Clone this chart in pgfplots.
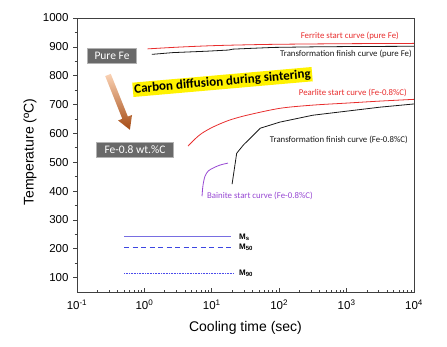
\documentclass[border=0pt]{standalone}
\usepackage{pgfplots}
\pgfplotsset{compat=1.18}
\usepackage{fontspec}
\setmainfont{Liberation Sans}
\newfontfamily\calfont{Carlito}
\definecolor{cred}{RGB}{232,45,45}
\definecolor{cblk}{RGB}{25,25,25}
\definecolor{cpur}{RGB}{150,70,210}
\definecolor{cms}{RGB}{120,110,225}
\definecolor{cmfifty}{RGB}{60,70,225}
\definecolor{cmninety}{RGB}{75,75,235}
\definecolor{boxgray}{RGB}{105,105,105}
\begin{document}
\begin{tikzpicture}[x=1pt,y=1pt]
\path[use as bounding box] (0,0) rectangle (447,346);
% axis with y ticks (outside)
\begin{axis}[at={(77pt,54pt)},anchor=south west,scale only axis,
  width=337pt,height=274pt,xmode=log,xmin=0.1,xmax=10000,ymin=50,ymax=1000,
  axis line style={black!75,line width=0.8pt},
  tick style={black!75,line width=0.7pt},
  major tick length=4pt, minor tick length=2.5pt,
  tick align=outside, ytick pos=left, xtick=\empty,
  ytick={100,200,...,1000}, minor y tick num=1,
  /pgf/number format/assume math mode=true,
  /pgf/number format/1000 sep={},
  yticklabel style={font=\fontsize{11.5}{13}\selectfont, xshift=-1pt},
  ylabel={Temperature (ºC)},
  ylabel style={font=\fontsize{14}{16}\selectfont, at={(axis description cs:-0.1395,0.51)}, anchor=center},
  xlabel={Cooling time (sec)},
  xlabel style={font=\fontsize{14}{16}\selectfont, at={(axis description cs:0.5,-0.131)}, anchor=center},
  clip=false]
% Ferrite start curve (pure Fe)
\addplot[cred, line width=0.8pt, smooth] coordinates {
 (1.12,893) (3.16,899) (10,904) (31.6,907) (100,909) (1000,911) (10000,912)};
% Transformation finish curve (pure Fe)
\addplot[cblk, line width=0.8pt] coordinates {
 (1.29,874) (2.63,880) (8.5,885) (17.8,889) (20.4,892) (31.6,894) (81,898) (316,900) (1000,901) (10000,902)};
% Pearlite start curve (Fe-0.8%C)
\addplot[cred, line width=0.8pt, smooth] coordinates {
 (4.44,556) (5.6,580) (7.1,600) (10.4,622) (17.8,645) (33.3,663) (103,687) (316,698) (1000,705) (3160,712) (10000,718)};
% Transformation finish curve (Fe-0.8%C)
\addplot[cblk, line width=0.8pt] coordinates {
 (20,424) (23.4,531) (29.5,560) (37.2,583) (52.5,618) (102,639) (316,663) (1000,677) (3160,691) (10000,702)};
% Bainite start curve (Fe-0.8%C)
\addplot[cpur, line width=0.8pt, smooth] coordinates {
 (7.16,382) (7.4,420) (7.94,452) (8.9,470) (10.5,480) (13.2,490) (17.4,497)};
% Martensite lines
\addplot[color=cms, line width=0.9pt] coordinates {(0.5,241) (19.5,241)};
\addplot[color=cmfifty, line width=0.9pt, dash pattern=on 5pt off 3.5pt] coordinates {(0.5,204) (21,204)};
\addplot[color=cmninety, line width=0.9pt, dash pattern=on 0.9pt off 0.7pt] coordinates {(0.5,113) (21,113)};
\end{axis}
% axis with x ticks (inside)
\begin{axis}[at={(77pt,54pt)},anchor=south west,scale only axis,
  width=337pt,height=274pt,xmode=log,xmin=0.1,xmax=10000,ymin=50,ymax=1000,
  axis line style={black!75,line width=0.8pt},
  tick style={black!75,line width=0.7pt},
  major tick length=4pt, minor tick length=2.5pt,
  tick align=inside, xtick pos=bottom, ytick=\empty,
  xtick={0.1,1,10,100,1000,10000},
  minor xtick={0.2,0.3,0.4,0.5,0.6,0.7,0.8,0.9,2,3,4,5,6,7,8,9,20,30,40,50,60,70,80,90,200,300,400,500,600,700,800,900,2000,3000,4000,5000,6000,7000,8000,9000},
  xticklabels={10\textsuperscript{-1},10\textsuperscript{0},10\textsuperscript{1},10\textsuperscript{2},10\textsuperscript{3},10\textsuperscript{4}},
  xticklabel style={font=\fontsize{11.5}{13}\selectfont, yshift=-4pt}]
\end{axis}
% curve annotations
\begin{scope}[font=\calfont\fontsize{8.8}{10}\selectfont]
\node[anchor=east, text=cred, inner sep=0pt] at (399,310.3) {Ferrite start curve (pure Fe)};
\node[anchor=east, text=cblk, inner sep=0pt] at (412,292) {Transformation finish curve (pure Fe)};
\node[anchor=east, text=cred, inner sep=0pt] at (407,253.3) {Pearlite start curve (Fe-0.8\%C)};
\node[anchor=east, text=cblk, inner sep=0pt] at (408,206) {Transformation finish curve (Fe-0.8\%C)};
\node[anchor=west, text=cpur, inner sep=0pt] at (207,150) {Bainite start curve (Fe-0.8\%C)};
\end{scope}
\begin{scope}[font=\bfseries\fontsize{8}{9}\selectfont]
\node[anchor=west, inner sep=0pt] at (239,109) {M\textsubscript{s}};
\node[anchor=west, inner sep=0pt] at (239,98.7) {M\textsubscript{50}};
\node[anchor=west, inner sep=0pt] at (239,72.7) {M\textsubscript{90}};
\end{scope}
% gray boxes
\node[fill=boxgray, draw=black!30, line width=1.5pt, text=white, minimum width=49pt, minimum height=15pt, inner sep=1pt,
  font=\calfont\fontsize{11.5}{13}\selectfont] at (112,290) {Pure Fe};
\node[fill=boxgray, draw=black!30, line width=1.5pt, text=white, minimum width=77pt, minimum height=15pt, inner sep=1pt,
  font=\calfont\fontsize{11.5}{13}\selectfont] at (135,196) {Fe-0.8 wt.\%C};
% arrow
\begin{scope}[shift={(108,271)}, rotate=21.8]
\shade[top color={rgb,255:red,250;green,210;blue,180}, middle color={rgb,255:red,232;green,128;blue,62}, bottom color={rgb,255:red,165;green,75;blue,20}]
 (-3,0) -- (3,0) -- (3,-46) -- (7.5,-46) -- (0,-59) -- (-7.5,-46) -- (-3,-46) -- cycle;
\end{scope}
% yellow banner
\node[fill=yellow, rotate=5, inner xsep=1.5pt, inner ysep=1.5pt, font=\calfont\bfseries\fontsize{13}{15}\selectfont] at (222.5,264) {Carbon diffusion during sintering};
\end{tikzpicture}
\end{document}
